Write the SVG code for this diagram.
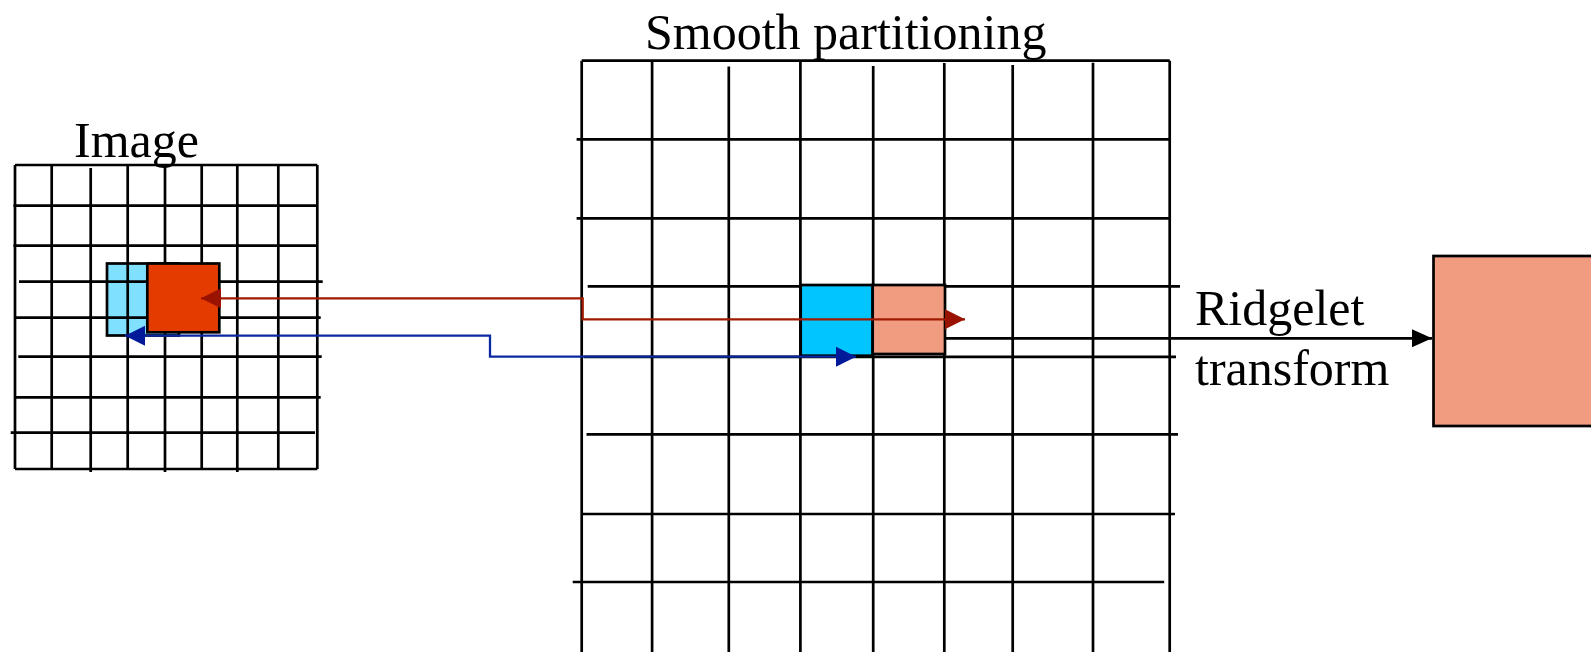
<svg xmlns="http://www.w3.org/2000/svg" width="1591" height="652" viewBox="0 0 1591 652">
<style>
.g{stroke:#000;stroke-width:2.7;fill:none}
.lbl{font-family:"Liberation Serif","Times New Roman",serif;font-size:50px;fill:#000}
.box{stroke:#000;stroke-width:2.7}
.red{stroke:#A01A00;stroke-width:2.3;fill:none}
.blue{stroke:#0A28A0;stroke-width:2.3;fill:none}
.blk{stroke:#000;stroke-width:2.7;fill:none}
</style>
<defs>
<marker id="ar" markerUnits="userSpaceOnUse" markerWidth="22" markerHeight="22" refX="20" refY="10" orient="auto-start-reverse"><path d="M0,0 L20,10 L0,20 z" fill="#9A1200"/></marker>
<marker id="ab" markerUnits="userSpaceOnUse" markerWidth="22" markerHeight="22" refX="20" refY="10" orient="auto-start-reverse"><path d="M0,0 L20,10 L0,20 z" fill="#001A99"/></marker>
<marker id="ak" markerUnits="userSpaceOnUse" markerWidth="22" markerHeight="22" refX="20" refY="9" orient="auto"><path d="M0,0 L20,9 L0,18 z" fill="#000"/></marker>
</defs>
<rect width="1591" height="652" fill="#fff"/>

<g id="image-grid">
<rect x="107" y="263.5" width="72" height="72" fill="#80E0FF" class="box"/>
<path class="g" d="M15,165 H317.3 M15,469 H317.3 M15,165 V469 M317.3,165 V469
M51.7,165 V469 M90.7,168 V472 M127.7,165 V469 M165,167 V472 M201.7,165 V469 M237.3,165 V472 M278.3,165 V469
M13.3,205.7 H317.3 M13.3,245.7 H317.3 M19,281.7 H322.7 M15,317.7 H320.7 M18.3,356.7 H321.7 M15,397.3 H320.7 M10.7,432.7 H315"/>
<rect x="147.3" y="263.5" width="72" height="68.8" fill="#E43C00" class="box"/>
<text class="lbl" x="74" y="157">Image</text>
</g>

<g id="partition-grid">
<path class="g" d="M581.7,60.7 H1169.7 M581.7,60.7 V652 M1169.7,60.7 V652
M652.1,60.7 V652 M728.8,66.5 V652 M800.4,60.7 V652 M873.2,66 V652 M944.3,63 V652 M1012.7,65 V652 M1093,62.7 V652
M576.6,139.3 H1169.7 M576.6,218.3 H1169.7 M587.7,286.3 H1180 M583.7,356.8 H1176 M586.5,434.3 H1178 M582.5,514 H1175 M572.7,582 H1164.2"/>
<rect id="blue-patch" x="800.7" y="285" width="72" height="70.7" fill="#00C5FF" class="box"/>
<rect id="salmon-patch" x="872.7" y="285" width="72.3" height="69" fill="#F19C80" class="box"/>
<text class="lbl" x="645" y="48.5">Smooth partitioning</text>
</g>

<g id="ridgelet-output">
<rect x="1433.5" y="256" width="170" height="170" fill="#F19C80" class="box"/>
<text class="lbl" x="1195" y="324.5">Ridgelet</text>
<text class="lbl" x="1195" y="385">transform</text>
</g>

<g id="connectors">
<path class="red" d="M201,298.3 H582.7 V319.3 H965" marker-start="url(#ar)" marker-end="url(#ar)"/>
<path class="blue" d="M125,335.7 H490 V356.7 H856" marker-start="url(#ab)" marker-end="url(#ab)"/>
<path class="blk" d="M945,338.3 H1432" marker-end="url(#ak)"/>
</g>
</svg>
